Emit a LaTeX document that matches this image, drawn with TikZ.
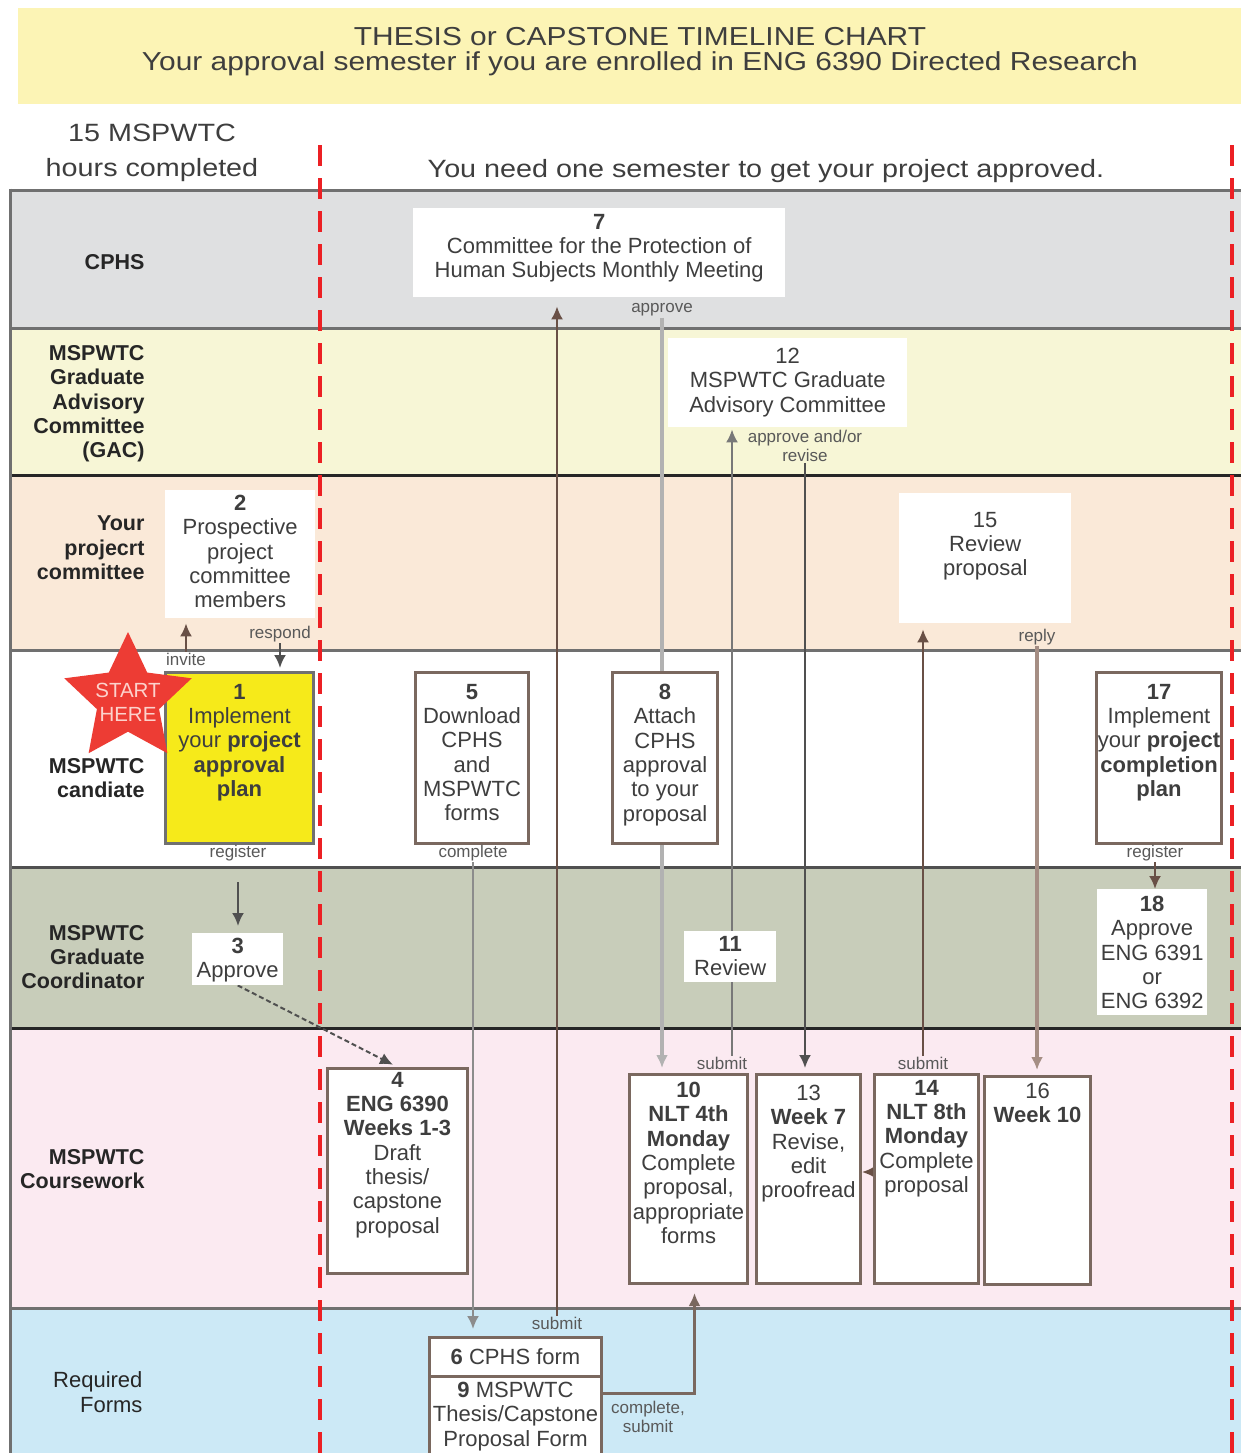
\documentclass[tikz,border=0pt]{standalone}
\usepackage{fontspec}
\setmainfont{Liberation Sans}
\newfontfamily\widefont[FakeStretch=1.15]{Liberation Sans}
\usetikzlibrary{positioning, shapes.geometric, arrows.meta}
\definecolor{titleband}{RGB}{252,244,181}
\definecolor{cphslane}{RGB}{223,224,225}
\definecolor{gaclane}{RGB}{247,246,214}
\definecolor{commlane}{RGB}{250,233,216}
\definecolor{coordlane}{RGB}{200,205,186}
\definecolor{courselane}{RGB}{251,234,241}
\definecolor{formlane}{RGB}{204,233,246}
\definecolor{planyellow}{RGB}{246,234,26}
\definecolor{starred}{RGB}{237,60,52}
\definecolor{startpink}{RGB}{252,210,204}
\definecolor{boxline}{RGB}{122,104,95}
\definecolor{rulegray}{RGB}{112,112,112}
\definecolor{ruledark}{RGB}{80,80,80}
\definecolor{ruleblack}{RGB}{38,38,38}
\definecolor{cutred}{RGB}{236,32,36}
\definecolor{inktext}{RGB}{62,62,62}
\definecolor{brownarrow}{RGB}{105,80,70}
\definecolor{darkarrow}{RGB}{80,80,80}
\definecolor{grayarrow}{RGB}{140,140,140}
\definecolor{palearrow}{RGB}{178,178,178}
\definecolor{midarrow}{RGB}{120,120,120}
\definecolor{tanarrow}{RGB}{165,142,132}
\newcommand\titlefont{\widefont\fontsize{26}{25}\selectfont}
\newcommand\headfont{\widefont\fontsize{25}{35}\selectfont}
\newcommand\lanefont{\bfseries\fontsize{21.5}{24.3}\selectfont}
\newcommand\boxfont{\fontsize{22}{24.3}\selectfont}
\newcommand\tagfont{\fontsize{17}{19}\selectfont}
\pgfdeclarelayer{lanes}
\pgfdeclarelayer{wires}
\pgfsetlayers{lanes,wires,main}

\begin{document}
\begin{tikzpicture}[x=1pt, y=-1pt, >={Latex[length=13pt,width=12pt]},
    lanetitle/.style={anchor=east, align=right, font=\lanefont, text=black!85},
    taskbox/.style={anchor=north west, inner sep=0pt, fill=white, draw=boxline, line width=3pt},
    plainbox/.style={anchor=north west, inner sep=0pt, fill=white},
    tasktext/.style={anchor=north, align=center, font=\boxfont, text=inktext, inner sep=0pt},
    tag/.style={font=\tagfont, text=black!65, inner sep=1pt, align=center},
    wire/.style={line width=2.2pt, ->},
    divider/.style={line width=3pt, draw=rulegray},
    redcut/.style={draw=cutred, line width=4pt, dash pattern=on 21pt off 12pt}]
  \useasboundingbox (0,0) rectangle (1241,1453);

  % heading
  \node[font=\titlefont, align=center, text=inktext] (title) at (640,52)
    {THESIS or CAPSTONE TIMELINE CHART\\Your approval semester if you are enrolled in ENG 6390 Directed Research};
  \node[font=\headfont, align=center, text=inktext] (hours) at (152,153) {15 MSPWTC\\hours completed};
  \node[font=\headfont, text=inktext] (semester) at (766,171) {You need one semester to get your project approved.};

  % lane titles
  \node[lanetitle] (cphs) at (148,262) {CPHS};
  \node[lanetitle] (gac) at (148,404) {MSPWTC\\Graduate\\Advisory\\Committee\\(GAC)};
  \node[lanetitle] (committee) at (148,548) {Your\\projecrt\\committee};
  \node[lanetitle] (candidate) at (148,778) {MSPWTC\\candiate};
  \node[lanetitle] (coordinator) at (148,957) {MSPWTC\\Graduate\\Coordinator};
  \node[lanetitle] (coursework) at (148,1169) {MSPWTC\\Coursework};
  \node[lanetitle, font=\boxfont] (forms) at (146,1392) {Required\\Forms};

  % steps
  \node[plainbox, minimum width=372pt, minimum height=89pt,
    label={[tasktext, yshift=-6pt]north:{\textbf{7}\\Committee for the Protection of\\Human Subjects Monthly Meeting}}] (n7) at (413,208) {};
  \node[plainbox, minimum width=239pt, minimum height=89pt,
    label={[tasktext, yshift=-10pt]north:{12\\MSPWTC Graduate\\Advisory Committee}}] (n12) at (668,338) {};
  \node[plainbox, minimum width=150pt, minimum height=128pt,
    label={[tasktext, yshift=-5pt]north:{\textbf{2}\\Prospective\\project\\committee\\members}}] (n2) at (165,490) {};
  \node[plainbox, minimum width=172pt, minimum height=130pt,
    label={[tasktext, yshift=-19pt]north:{15\\Review\\proposal}}] (n15) at (899,493) {};
  \node[taskbox, fill=planyellow, draw=rulegray, minimum width=148pt, minimum height=171pt,
    label={[tasktext, yshift=-13pt]north:{\textbf{1}\\Implement\\your \textbf{project}\\\textbf{approval}\\\textbf{plan}}}] (n1) at (164,671) {};
  \node[taskbox, minimum width=113pt, minimum height=171pt,
    label={[tasktext, yshift=-13pt]north:{\textbf{5}\\Download\\CPHS\\and\\MSPWTC\\forms}}] (n5) at (414,671) {};
  \node[taskbox, minimum width=105pt, minimum height=171pt,
    label={[tasktext, yshift=-13pt]north:{\textbf{8}\\Attach\\CPHS\\approval\\to your\\proposal}}] (n8) at (611,671) {};
  \node[taskbox, minimum width=125pt, minimum height=171pt,
    label={[tasktext, yshift=-13pt]north:{\textbf{17}\\Implement\\your \textbf{project}\\\textbf{completion}\\\textbf{plan}}}] (n17) at (1095,671) {};
  \node[plainbox, minimum width=91pt, minimum height=52pt,
    label={[tasktext, yshift=-5pt]north:{\textbf{3}\\Approve}}] (n3) at (192,933) {};
  \node[plainbox, minimum width=92pt, minimum height=51pt,
    label={[tasktext, yshift=-5pt]north:{\textbf{11}\\Review}}] (n11) at (684,931) {};
  \node[plainbox, minimum width=110pt, minimum height=126pt,
    label={[tasktext, yshift=-7pt]north:{\textbf{18}\\Approve\\ENG 6391\\or\\ENG 6392}}] (n18) at (1097,889) {};
  \node[taskbox, minimum width=140pt, minimum height=205pt,
    label={[tasktext, yshift=-5pt]north:{\textbf{4}\\\textbf{ENG 6390}\\\textbf{Weeks 1-3}\\Draft\\thesis/\\capstone\\proposal}}] (n4) at (326,1067) {};
  \node[taskbox, minimum width=118pt, minimum height=209pt,
    label={[tasktext, yshift=-9pt]north:{\textbf{10}\\\textbf{NLT 4th}\\\textbf{Monday}\\Complete\\proposal,\\appropriate\\forms}}] (n10) at (628,1073) {};
  \node[taskbox, minimum width=104pt, minimum height=209pt,
    label={[tasktext, yshift=-12pt]north:{13\\\textbf{Week 7}\\Revise,\\edit\\proofread}}] (n13) at (755,1073) {};
  \node[taskbox, minimum width=104pt, minimum height=209pt,
    label={[tasktext, yshift=-7pt]north:{\textbf{14}\\\textbf{NLT 8th}\\\textbf{Monday}\\Complete\\proposal}}] (n14) at (873,1073) {};
  \node[taskbox, minimum width=106pt, minimum height=208pt,
    label={[tasktext, yshift=-8pt]north:{16\\\textbf{Week 10}}}] (n16) at (983,1075) {};
  \node[taskbox, minimum width=172pt, minimum height=39pt, font=\boxfont, text=inktext] (n6) at (428,1336) {\textbf{6} CPHS form};
  \node[taskbox, minimum width=172pt, minimum height=85pt,
    label={[tasktext, yshift=-7pt]north:{\textbf{9} MSPWTC\\Thesis/Capstone\\Proposal Form}}] (n9) at (428,1375) {};

  % start marker
  \node[star, star points=5, star point ratio=2.05, fill=starred, minimum size=134pt, inner sep=0pt] (start) at (128,699) {};
  \node[font=\fontsize{20.5}{24}\selectfont, text=startpink, align=center] (starttext) at (128,702) {START\\HERE};

  % arrow words
  \node[tag] (invite) at (186,659) {invite};
  \node[tag] (respond) at (280,634) {respond};
  \node[tag] (registerA) at (238,853) {register};
  \node[tag] (complete) at (473,853) {complete};
  \node[tag] (submitA) at (557,1323) {submit};
  \node[tag] (approve) at (662,310) {approve};
  \node[tag] (submitB) at (722,1063) {submit};
  \node[tag] (revise) at (805,446) {approve and/or\\revise};
  \node[tag] (submitC) at (923,1063) {submit};
  \node[tag] (reply) at (1037,637) {reply};
  \node[tag] (registerB) at (1155,853) {register};
  \node[tag] (compsubmit) at (648,1417) {complete,\\submit};

  \begin{pgfonlayer}{lanes}
    \fill[white] (0,0) rectangle (1241,1453);
    \fill[titleband] (18,8) rectangle (1241,104);
    \fill[cphslane] (10,190) rectangle (1241,328);
    \fill[gaclane] (10,328) rectangle (1241,475);
    \fill[commlane] (10,475) rectangle (1241,650);
    \fill[coordlane] (10,867) rectangle (1241,1028);
    \fill[courselane] (10,1028) rectangle (1241,1308);
    \fill[formlane] (10,1308) rectangle (1241,1453);
    \draw[divider] (10,190) -- (1241,190);
    \draw[divider] (10,328) -- (1241,328);
    \draw[divider, draw=ruleblack] (10,475) -- (1241,475);
    \draw[divider] (10,650) -- (1241,650);
    \draw[divider, draw=ruledark] (10,867) -- (1241,867);
    \draw[divider, draw=ruleblack] (10,1028) -- (1241,1028);
    \draw[divider] (10,1308) -- (1241,1308);
    \draw[divider] (10,188.5) -- (10,1453);
  \end{pgfonlayer}

  \begin{pgfonlayer}{wires}
    \draw[redcut] (320,145) -- (320,1453);
    \draw[redcut] (1232,145) -- (1232,1453);
    \draw[wire, brownarrow, shorten >=5pt] (invite.north) -- (invite.north |- n2.south);
    \draw[wire, darkarrow, shorten >=3pt] (respond.south) -- (respond.south |- n1.north);
    \draw[wire, darkarrow, shorten <=20pt, shorten >=7pt] (registerA.south) -- (registerA.south |- n3.north);
    \draw[wire, darkarrow, line width=2pt, dash pattern=on 5pt off 3pt, shorten >=5pt] (n3.south) -- (n4.north);
    \draw[wire, grayarrow, shorten >=7pt] (complete.south) -- (complete.south |- n6.north);
    \draw[wire, brownarrow, shorten >=9pt] (submitA.north) -- (submitA.north |- n7.south);
    \draw[wire, palearrow, line width=3.5pt, shorten >=5pt] (approve.south) -- (approve.south |- n10.north);
    \draw[wire, midarrow, shorten >=2pt] ([xshift=10pt]submitB.north) -- ([xshift=10pt]submitB.north |- n12.south);
    \draw[wire, darkarrow, shorten >=5pt] (revise.south) -- (revise.south |- n13.north);
    \draw[wire, brownarrow, shorten >=6pt] (submitC.north) -- (submitC.north |- n15.south);
    \draw[wire, tanarrow, line width=3.5pt, shorten >=5pt] (reply.south) -- (reply.south |- n16.north);
    \draw[wire, brownarrow] (registerB.south) -- (registerB.south |- n18.north);
    \draw[wire, brownarrow] ([yshift=7pt]n14.west) -- ([yshift=7pt]n14.west -| n13.east);
    \draw[wire, boxline, line width=3pt, shorten >=8pt] ([yshift=-18pt]n9.north east) -| ([xshift=6pt]n10.south);
  \end{pgfonlayer}
\end{tikzpicture}
\end{document}
